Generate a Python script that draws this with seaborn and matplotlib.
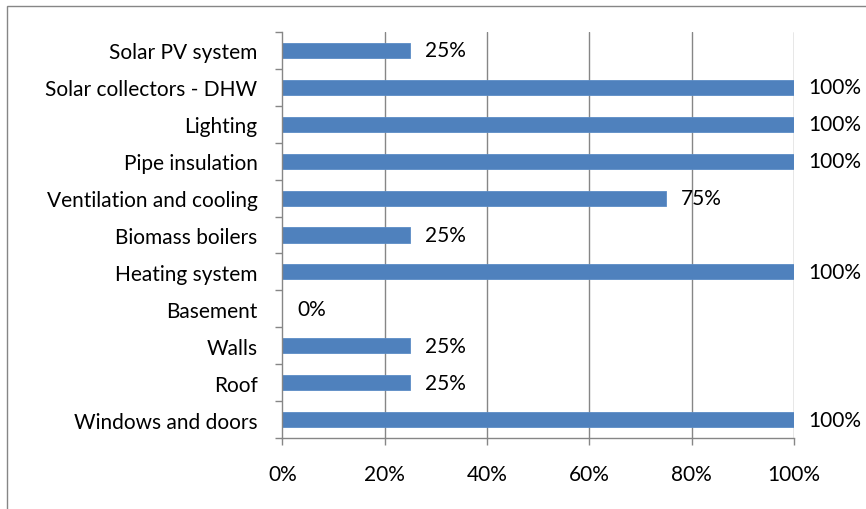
import matplotlib
matplotlib.use("Agg")
import matplotlib.pyplot as plt
from matplotlib.patches import Rectangle
from matplotlib.ticker import FixedLocator, PercentFormatter
import seaborn as sns
import pandas as pd

measures = [
    "Solar PV system",
    "Solar collectors - DHW",
    "Lighting",
    "Pipe insulation",
    "Ventilation and cooling",
    "Biomass boilers",
    "Heating system",
    "Basement",
    "Walls",
    "Roof",
    "Windows and doors",
]
share = [25, 100, 100, 100, 75, 25, 100, 0, 25, 25, 100]
x_ticks = [0, 20, 40, 60, 80, 100]

df = pd.DataFrame({"measure": measures, "share": share})

sns.set_theme(style="white")
plt.rcParams["font.family"] = ["Lato", "DejaVu Sans"]

BAR = "#4F81BD"
GRID = "#868686"
FS = 15

fig = plt.figure(figsize=(8.66, 5.10), dpi=100)
ax = fig.add_axes([0.3262, 0.1392, 0.9169 - 0.3262, 0.9353 - 0.1392])

sns.barplot(data=df, x="share", y="measure", orient="h", color=BAR,
            width=0.41, saturation=1, ax=ax, edgecolor="#5B8CC6", linewidth=0.6)

ax.set_xlim(0, 100)
ax.set_ylim(len(measures) - 0.5, -0.5)
ax.set_xlabel("")
ax.set_ylabel("")

# vertical gridlines
for v in x_ticks[1:]:
    ax.axvline(v, color=GRID, lw=1.0, zorder=0)

ax.xaxis.set_major_locator(FixedLocator(x_ticks))
ax.xaxis.set_major_formatter(PercentFormatter(decimals=0))
ax.tick_params(axis="x", direction="out", length=5, width=1, color=GRID,
               pad=13.5, labelsize=FS, labelcolor="black", bottom=True)

# category ticks sit on the boundaries between bars
ax.yaxis.set_minor_locator(FixedLocator([i - 0.5 for i in range(len(measures) + 1)]))
ax.tick_params(axis="y", which="major", length=0, pad=18, labelsize=FS,
               labelcolor="black")
ax.tick_params(axis="y", which="minor", direction="out", length=5, width=1,
               color=GRID, left=True)

for side in ["top", "right"]:
    ax.spines[side].set_visible(False)
for side in ["left", "bottom"]:
    ax.spines[side].set_color(GRID)
    ax.spines[side].set_linewidth(1.0)

# value labels at the end of each bar
for i, v in enumerate(share):
    ax.annotate(f"{v}%", xy=(v, i), xytext=(10.5, 0), textcoords="offset points",
                ha="left", va="center", fontsize=FS, color="black")

# chart frame
fig.patches.append(Rectangle((7 / 866, -0.1), 2, 1 - 7 / 510 + 0.1,
                             transform=fig.transFigure, fill=False,
                             edgecolor=GRID, lw=1.0))

fig.savefig("out.png", dpi=100)
